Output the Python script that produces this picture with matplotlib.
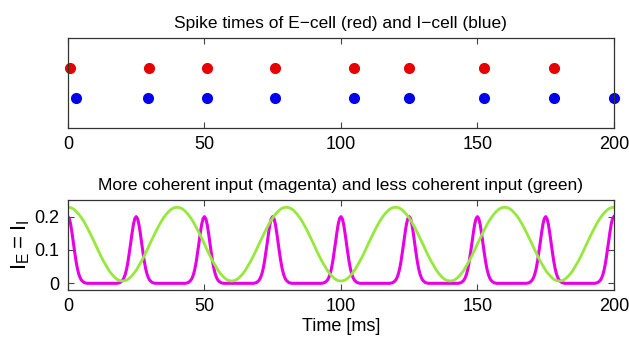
import numpy as np
import matplotlib
matplotlib.use("Agg")
import matplotlib.pyplot as plt

plt.rcParams['font.family'] = ['Liberation Sans', 'DejaVu Sans']

# spike times [ms]
e_spikes = [0.7, 29.7, 51.0, 76.0, 104.8, 124.9, 152.3, 178.0]
i_spikes = [2.9, 29.5, 51.0, 76.0, 104.8, 124.9, 152.3, 178.0, 200.0]

# magenta drive: half of one pulse, 0.5 ms steps from the peak (period 25 ms)
pulse_half = [0.200, 0.194, 0.177, 0.151, 0.121, 0.092, 0.065, 0.043, 0.027,
              0.016, 0.009, 0.005, 0.002, 0.001, 0.0, 0.0, 0.0, 0.0, 0.0,
              0.0, 0.0, 0.0, 0.0, 0.0, 0.0, 0.0]
# green drive: half of one cycle, 1 ms steps from the peak (period 40 ms)
wave_half = [0.228, 0.227, 0.223, 0.216, 0.207, 0.196, 0.183, 0.168, 0.152,
             0.135, 0.118, 0.100, 0.083, 0.067, 0.053, 0.039, 0.028, 0.019,
             0.012, 0.008, 0.007]

xticks = [0, 50, 100, 150, 200]
yticks = [0, 0.1, 0.2]

ph = np.array(pulse_half)
pulse_period = np.concatenate([ph, ph[-2:0:-1]])
magenta = np.append(np.tile(pulse_period, 8), ph[0])
t_mag = np.arange(len(magenta)) * 0.5

wh = np.array(wave_half)
wave_period = np.concatenate([wh, wh[-2:0:-1]])
green = np.append(np.tile(wave_period, 5), wh[0])
t_green = np.arange(len(green)) * 1.0

fig = plt.figure(figsize=(6.29, 3.41), dpi=100)
ax1 = fig.add_axes([0.108, 0.6246, 0.868, 0.264])
ax2 = fig.add_axes([0.108, 0.1496, 0.868, 0.264])

ax1.plot(e_spikes, [2] * len(e_spikes), 'o', color='#e60000', ms=7, clip_on=False)
ax1.plot(i_spikes, [1] * len(i_spikes), 'o', color='#0000ee', ms=7, clip_on=False)
ax1.set_xlim(0, 200)
ax1.set_ylim(0, 3)
ax1.set_yticks([])
ax1.set_title('Spike times of E\u2212cell (red) and I\u2212cell (blue)', fontsize=12.5, pad=7)

ax2.plot(t_mag, magenta, color='#e600e6', lw=2.2)
ax2.plot(t_green, green, color='#96e83c', lw=2.0)
ax2.set_xlim(0, 200)
ax2.set_ylim(-0.02, 0.25)
ax2.set_yticks(yticks)
ax2.set_yticklabels(['0', '0.1', '0.2'])
ax2.set_title('More coherent input (magenta) and less coherent input (green)', fontsize=12.5, pad=7)
ax2.set_xlabel('Time [ms]', fontsize=13, labelpad=2)
ax2.set_ylabel(r'$\mathregular{I_E = I_I}$', fontsize=16, labelpad=2)

for ax in (ax1, ax2):
    ax.set_xticks(xticks)
    ax.tick_params(direction='in', top=True, right=True, labelsize=13, length=4,
                   width=0.8, color='#444444', pad=6)
    for s in ax.spines.values():
        s.set_color('#333333')
        s.set_linewidth(0.9)

fig.savefig('out.png', dpi=100)
